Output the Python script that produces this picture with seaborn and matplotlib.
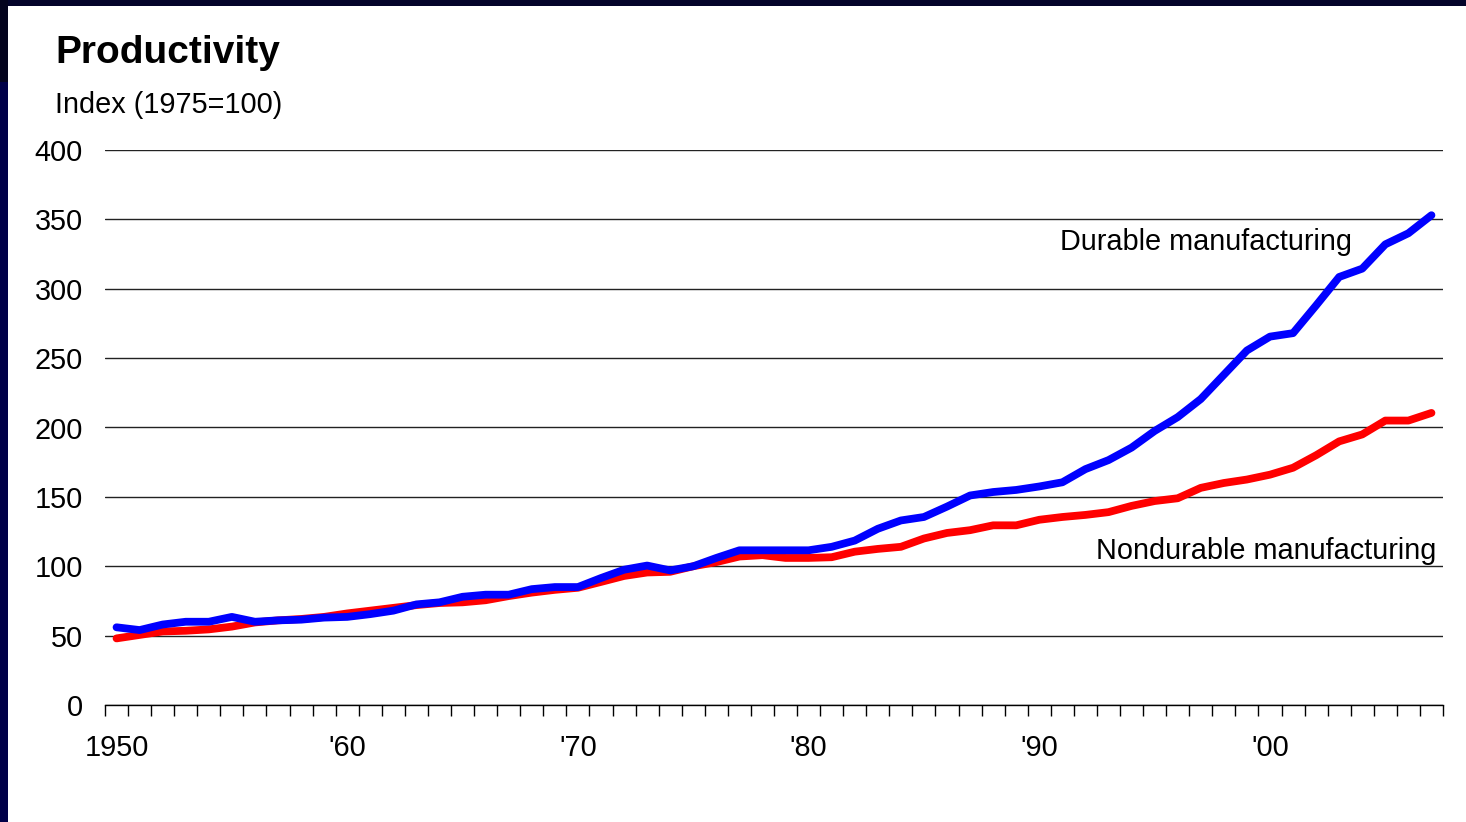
import numpy as np
import pandas as pd
import matplotlib
matplotlib.use("Agg")
import matplotlib.pyplot as plt
import seaborn as sns
from matplotlib.patches import Rectangle

years = list(range(1950, 2008))

durable = [56, 54, 58, 60, 60, 63.5, 60, 61, 61.5, 63,
           63.5, 65.5, 68, 72.5, 74, 78, 79.5, 79.5, 83.5, 85,
           85, 91.5, 97.5, 100.5, 97, 100, 106, 111.5, 111.5, 111.5,
           111.5, 114, 118.5, 127, 133, 135.5, 143, 151, 153.5, 155,
           157.5, 160.5, 170, 176.5, 185.5, 197.5, 207.5, 220.5, 238, 255.5,
           265.5, 268, 288, 308.5, 314.5, 332, 340, 353]

nondurable = [48, 50.5, 53, 53.5, 54.5, 56.5, 59.5, 61, 62, 63.5,
              66, 68, 70, 72, 73.5, 74, 75.5, 78.5, 81, 83,
              84.5, 88.7, 93, 95.5, 96, 100, 103, 107, 108, 106,
              106, 106.5, 110.5, 112.5, 114, 120, 124, 126, 129.5, 129.5,
              133.5, 135.5, 137, 139, 143.5, 147, 149, 156.5, 160, 162.5,
              166, 171, 180, 190, 195, 205, 205, 210.5]

series_names = ["Nondurable manufacturing", "Durable manufacturing"]
series_colors = {"Nondurable manufacturing": "#ff0000",
                 "Durable manufacturing": "#0000ff"}

y_ticks = [0, 50, 100, 150, 200, 250, 300, 350, 400]
x_label_years = [1950, 1960, 1970, 1980, 1990, 2000]
x_label_text = ["1950", "'60", "'70", "'80", "'90", "'00"]

df = pd.DataFrame({
    "year": years * 2,
    "value": nondurable + durable,
    "series": [series_names[0]] * len(years) + [series_names[1]] * len(years),
})

sns.set_theme(style="white")
plt.rcParams["font.family"] = ["Liberation Sans", "DejaVu Sans"]

FS = 20.8

W, H = 1466, 822
fig = plt.figure(figsize=(W / 100, H / 100), dpi=100)
fig.patch.set_facecolor("white")

# slide frame: dark navy band on the top and left edges
fig.patches.append(Rectangle((0, 1 - 6 / H), 1, 6 / H, transform=fig.transFigure,
                             facecolor="#04042a", edgecolor="none", zorder=0))
fig.patches.append(Rectangle((0, 0), 8 / W, 1 - 82 / H, transform=fig.transFigure,
                             facecolor="#000048", edgecolor="none", zorder=0))
fig.patches.append(Rectangle((0, 1 - 82 / H), 8 / W, 82 / H, transform=fig.transFigure,
                             facecolor="#04041e", edgecolor="none", zorder=0))

ax_left, ax_right = 105 / W, 1443 / W
ax_bottom, ax_top = 1 - 705 / H, 1 - 150 / H
ax = fig.add_axes([ax_left, ax_bottom, ax_right - ax_left, ax_top - ax_bottom])
ax.set_facecolor("white")

sns.lineplot(data=df, x="year", y="value", hue="series", hue_order=series_names,
             palette=series_colors, linewidth=5.6, legend=False, ax=ax,
             solid_capstyle="round", solid_joinstyle="round", zorder=3)

ax.set_xlim(1949.5, 2007.5)
ax.set_ylim(0, 400)

# horizontal gridlines
ax.set_yticks(y_ticks)
ax.set_yticklabels([str(v) for v in y_ticks], fontsize=FS)
ax.yaxis.grid(True, color="#222222", linewidth=1.0)
ax.set_axisbelow(True)
ax.tick_params(axis="y", length=0, pad=16, colors="black")

# category boundaries as tick marks, year labels at category centres
ax.set_xticks(np.arange(1949.5, 2008.0, 1.0))
ax.set_xticklabels([])
ax.tick_params(axis="x", which="major", direction="out", length=8, width=1,
               color="black", bottom=True)
ax.set_xticks(x_label_years, minor=True)
ax.set_xticklabels(x_label_text, minor=True, fontsize=FS)
ax.tick_params(axis="x", which="minor", length=0, pad=21, colors="black")

for side in ["top", "right", "left"]:
    ax.spines[side].set_visible(False)
ax.spines["bottom"].set_color("black")
ax.spines["bottom"].set_linewidth(1.0)
ax.set_xlabel("")
ax.set_ylabel("")

fig.text(55 / W, 1 - 63 / H, "Productivity", fontsize=28, fontweight="bold",
         ha="left", va="baseline", color="black")
fig.text(55 / W, 1 - 113 / H, "Index (1975=100)", fontsize=FS,
         ha="left", va="baseline", color="black")

ax.text(1990.9, 350 - 0.7207 * 23, "Durable manufacturing", fontsize=FS,
        ha="left", va="center", color="black")
ax.text(2007.2, 100 + 0.7207 * 15, "Nondurable manufacturing", fontsize=FS,
        ha="right", va="center", color="black")

fig.savefig("out.png", dpi=100, facecolor=fig.get_facecolor())
